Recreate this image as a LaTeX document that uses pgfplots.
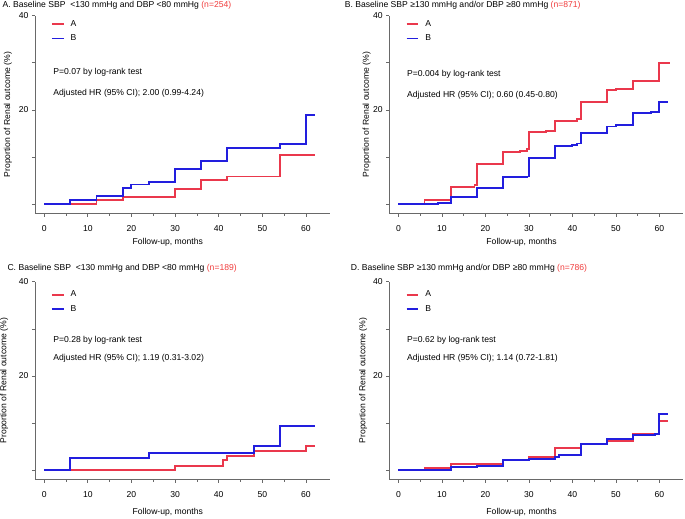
\documentclass[border=0pt]{standalone}
\usepackage{pgfplots}
\pgfplotsset{compat=1.18}
\usepackage{fontspec}
\setmainfont{Liberation Sans}

\definecolor{kmred}{RGB}{234,56,76}
\definecolor{kmblue}{RGB}{34,30,222}
\definecolor{nred}{RGB}{240,60,60}
\definecolor{axgray}{RGB}{105,105,105}

\newcommand{\fs}{\fontsize{8.6}{10}\selectfont}

\pgfplotsset{
  kmpanel/.style={
    scale only axis, width=295pt, height=198pt,
    xmin=-2.1, xmax=65.5, ymin=-2, ymax=40,
    axis lines=left,
    axis line style={-, draw=axgray, line width=0.7pt},
    tick align=outside, major tick length=3pt, minor tick length=2pt,
    tick style={draw=axgray, line width=0.7pt},
    xtick={0,10,...,60}, minor x tick num=1,
    ytick={0,10,20,30,40}, yticklabels={,,20,,40},
    tick label style={font=\fs},
    xticklabel style={yshift=-5pt},
    /pgf/number format/assume math mode=true,
    label style={font=\fs},
    xlabel={Follow-up, months},
    ylabel={Proportion of Renal outcome (\%)},
    xlabel style={at={(axis description cs:0.45,0)}, anchor=center, yshift=-29pt},
    title style={anchor=west, font=\fs},
    legend image code/.code={\draw[#1] (0pt,0pt) -- (11.8pt,0pt);},
    legend style={draw=none, fill=none, font=\fs, row sep=3pt, anchor=west, inner sep=0pt,
      /tikz/every odd column/.append style={column sep=4pt}},
    legend cell align=left,
  },
  kmA/.style={kmred, line width=1.9pt, const plot},
  kmB/.style={kmblue, line width=1.9pt, const plot},
}

\begin{document}
\begin{tikzpicture}
\path[use as bounding box] (0pt,0pt) rectangle (685pt,-519pt);

% panel A
\begin{axis}[kmpanel, at={(35pt,-213.7pt)}, anchor=south west,
  title={A. Baseline SBP\ \ {<}130 mmHg and DBP {<}80 mmHg \textcolor{nred}{(n=254)}},
  title style={at={(axis description cs:0,1)}, xshift=-36pt, yshift=4.4pt},
  ylabel style={at={(axis description cs:-0.092,0.5)}, anchor=center},
  legend style={at={(axis cs:1.5,36.7)}}]
\addplot[kmA] coordinates {(0,0)(12,0.9)(18,1.6)(30,3.3)(36,5.1)(42,5.9)(54,10.5)(62,10.5)};
\addplot[kmB] coordinates {(0,0)(6,0.9)(12,1.8)(18,3.4)(20,4.2)(24,4.8)(30,7.4)(36,9.1)(42,12.0)(54,12.7)(60,19.0)(62,19.0)};
\legend{A,B}
\node[anchor=west, font=\fs] at (axis cs:1.3,27.9) {P=0.07 by log-rank test};
\node[anchor=west, font=\fs] at (axis cs:1.3,23.5) {Adjusted HR (95\% CI); 2.00 (0.99-4.24)};
\end{axis}

% panel B
\begin{axis}[kmpanel, at={(389.3pt,-213.7pt)}, anchor=south west, width=294pt,
  title={B. Baseline SBP ≥130 mmHg and/or DBP ≥80 mmHg \textcolor{nred}{(n=871)}},
  title style={at={(axis description cs:0,1)}, xshift=-48pt, yshift=4.4pt},
  ylabel style={at={(axis description cs:-0.077,0.5)}, anchor=center},
  legend style={at={(axis cs:1.6,36.7)}}]
\addplot[kmA] coordinates {(0,0)(6,0.9)(12,3.7)(17.5,4.1)(18,8.6)(24,11.0)(28,11.3)(29.5,11.7)(30,15.3)(34,15.5)(36,17.7)(41,18.0)(42,21.6)(48,24.2)(50,24.4)(54,26.2)(60,30.0)(62.5,30.0)};
\addplot[kmB] coordinates {(0,0)(9,0.35)(12,1.6)(18,3.4)(22,3.5)(24,5.7)(29.5,5.9)(30,9.8)(36,12.4)(40,12.6)(41,12.9)(42,15.2)(48,16.5)(50,16.8)(54,19.3)(58,19.5)(60,21.6)(62,21.6)};
\legend{A,B}
\node[anchor=west, font=\fs] at (axis cs:1.2,27.6) {P=0.004 by log-rank test};
\node[anchor=west, font=\fs] at (axis cs:1.2,23.2) {Adjusted HR (95\% CI); 0.60 (0.45-0.80)};
\end{axis}

% panel C
\begin{axis}[kmpanel, at={(35pt,-479.7pt)}, anchor=south west,
  title={C. Baseline SBP\ \ {<}130 mmHg and DBP {<}80 mmHg \textcolor{nred}{(n=189)}},
  title style={at={(axis description cs:0,1)}, xshift=-31pt, yshift=7.7pt},
  ylabel style={at={(axis description cs:-0.105,0.5)}, anchor=center},
  xlabel style={yshift=-4pt},
  legend style={at={(axis cs:1.5,35.7)}}]
\addplot[kmA] coordinates {(0,0)(30,1.0)(41,2.2)(42,3.1)(48,4.0)(60,5.2)(62,5.2)};
\addplot[kmB] coordinates {(0,0)(6,2.6)(24,3.7)(48,5.1)(54,9.4)(62,9.4)};
\legend{A,B}
\node[anchor=west, font=\fs] at (axis cs:1.3,27.6) {P=0.28 by log-rank test};
\node[anchor=west, font=\fs] at (axis cs:1.3,23.7) {Adjusted HR (95\% CI); 1.19 (0.31-3.02)};
\end{axis}

% panel D
\begin{axis}[kmpanel, at={(389.3pt,-479.7pt)}, anchor=south west, width=294pt,
  title={D. Baseline SBP ≥130 mmHg and/or DBP ≥80 mmHg \textcolor{nred}{(n=786)}},
  title style={at={(axis description cs:0,1)}, xshift=-42pt, yshift=7.7pt},
  ylabel style={at={(axis description cs:-0.089,0.5)}, anchor=center},
  xlabel style={yshift=-4pt},
  legend style={at={(axis cs:1.6,35.7)}}]
\addplot[kmA] coordinates {(0,0)(6,0.4)(12,1.3)(24,2.1)(30,2.9)(36,4.7)(42,5.5)(48,6.2)(54,7.7)(60,10.4)(62,10.4)};
\addplot[kmB] coordinates {(0,0)(12,0.7)(18,1.0)(24,2.1)(30,2.4)(36,2.8)(37,3.2)(42,5.6)(48,6.7)(54,7.4)(59,7.7)(60,11.9)(62,11.9)};
\legend{A,B}
\node[anchor=west, font=\fs] at (axis cs:1.2,27.6) {P=0.62 by log-rank test};
\node[anchor=west, font=\fs] at (axis cs:1.2,23.8) {Adjusted HR (95\% CI); 1.14 (0.72-1.81)};
\end{axis}
\end{tikzpicture}
\end{document}
